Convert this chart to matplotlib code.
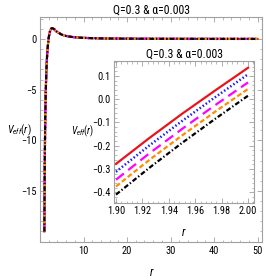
import matplotlib
matplotlib.use("Agg")
import matplotlib.pyplot as plt
from matplotlib.ticker import MultipleLocator, FixedLocator
import numpy as np

# ---------------- data ----------------
title = "Q=0.3 & \u03b1=0.003"

r_main = [1.0, 1.05, 1.1, 1.2, 1.3, 1.4, 1.5, 1.6, 1.7, 1.8, 1.9, 2.0, 2.2, 2.4,
          2.6, 2.8, 3.0, 3.3, 3.6, 4.0, 4.5, 5.0, 6.0, 7.0, 8.0, 10, 12, 15, 20,
          25, 30, 40, 50]
v_main = [-19.0, -15.0, -12.0, -8.0, -5.6, -4.0, -2.8, -1.9, -1.2, -0.7, -0.28,
          0.13, 0.6, 0.9, 1.03, 1.07, 1.04, 0.95, 0.8, 0.68, 0.55, 0.43, 0.3,
          0.22, 0.17, 0.11, 0.08, 0.05, 0.03, 0.02, 0.015, 0.01, 0.008]

r_inset = [1.90, 1.925, 1.95, 1.975, 2.00]
v_red = [-0.278, -0.168, -0.063, 0.037, 0.135]
v_blue = [-0.312, -0.200, -0.094, 0.008, 0.107]
v_magenta = [-0.346, -0.234, -0.128, -0.026, 0.072]
v_orange = [-0.375, -0.262, -0.156, -0.054, 0.044]
v_black = [-0.410, -0.296, -0.188, -0.085, 0.015]

main_xticks = [10, 20, 30, 40, 50]
main_yticks = [-15, -10, -5, 0]
inset_xticks = [1.90, 1.92, 1.94, 1.96, 1.98, 2.00]
inset_xticklabels = ["1.90", "1.92", "1.94", "1.96", "1.98", "2.00"]
inset_yticks = [-0.4, -0.3, -0.2, -0.1, 0.0, 0.1]
inset_yticklabels = ["-0.4", "-0.3", "-0.2", "-0.1", "0.0", "0.1"]

# ---------------- style ----------------
fam = ['Roboto Condensed', 'DejaVu Sans']
plt.rcParams['font.family'] = fam
plt.rcParams['mathtext.fontset'] = 'custom'
plt.rcParams['mathtext.rm'] = 'Roboto Condensed'
plt.rcParams['mathtext.it'] = 'Roboto Condensed:italic'
plt.rcParams['axes.unicode_minus'] = True

frame_c = '#a0a0a0'
styles = [
    dict(color='#e8141c', ls='-', lw=1.6),
    dict(color='#1a1aff', ls=(0, (0.6, 0.9)), lw=1.8),
    dict(color='#ff00ff', ls=(0, (4.5, 2.5)), lw=1.6),
    dict(color='#ff8c00', ls=(0, (2.2, 1.2)), lw=1.6),
    dict(color='#000000', ls=(0, (2.2, 1.0, 0.6, 1.0)), lw=1.6),
]

fig = plt.figure(figsize=(2.66, 2.80), dpi=100)

def style_axes(ax, fs):
    for s in ax.spines.values():
        s.set_color(frame_c)
        s.set_linewidth(0.8)
    ax.tick_params(which='both', direction='in', top=True, right=True,
                   color=frame_c, labelsize=fs, pad=2.5)
    ax.tick_params(which='major', length=3.5, width=0.6)
    ax.tick_params(which='minor', length=1.8, width=0.5)

# main axes
ax = fig.add_axes([40/266, 1-242.3/280, (262.3-40)/266, (242.3-16.7)/280])
for st in styles:
    ax.plot(r_main, v_main, color=st['color'], ls=st['ls'], lw=st['lw'] * 0.95)
ax.set_xlim(0, 51.1)
ax.set_ylim(-20.07, 2.2)
ax.xaxis.set_major_locator(FixedLocator(main_xticks))
ax.yaxis.set_major_locator(FixedLocator(main_yticks))
ax.xaxis.set_minor_locator(MultipleLocator(2))
ax.yaxis.set_minor_locator(MultipleLocator(1))
ax.set_xticklabels([str(t) for t in main_xticks])
ax.set_yticklabels(['\u221215', '\u221210', '\u22125', '0'])
style_axes(ax, 7.5)
ax.set_title(title, fontsize=8.5, pad=2)
fig.text(152/266, 1-272/280, r'$r$', fontsize=8.5, ha='center', va='center')
fig.text(19/266, 1-130/280, r'$V_{eff}(r)$', fontsize=7.5, ha='center', va='center')

# inset axes
ax2 = fig.add_axes([114/266, 1-203/280, (254-114)/266, (203-61)/280])
for v, st in zip([v_red, v_blue, v_magenta, v_orange, v_black], styles):
    ax2.plot(r_inset, v, **st)
ax2.set_xlim(1.8985, 2.0045)
ax2.set_ylim(-0.446, 0.164)
ax2.xaxis.set_major_locator(FixedLocator(inset_xticks))
ax2.yaxis.set_major_locator(FixedLocator(inset_yticks))
ax2.xaxis.set_minor_locator(MultipleLocator(0.004))
ax2.yaxis.set_minor_locator(MultipleLocator(0.02))
ax2.set_xticklabels(inset_xticklabels)
ax2.set_yticklabels([s.replace('-', '\u2212') for s in inset_yticklabels])
style_axes(ax2, 7.5)
ax2.set_title(title, fontsize=8.5, pad=2)
fig.text(184/266, 1-232/280, r'$r$', fontsize=8.5, ha='center', va='center')
fig.text(83/266, 1-131/280, r'$V_{eff}(r)$', fontsize=7, ha='center', va='center')

fig.savefig('out.png', dpi=100)
